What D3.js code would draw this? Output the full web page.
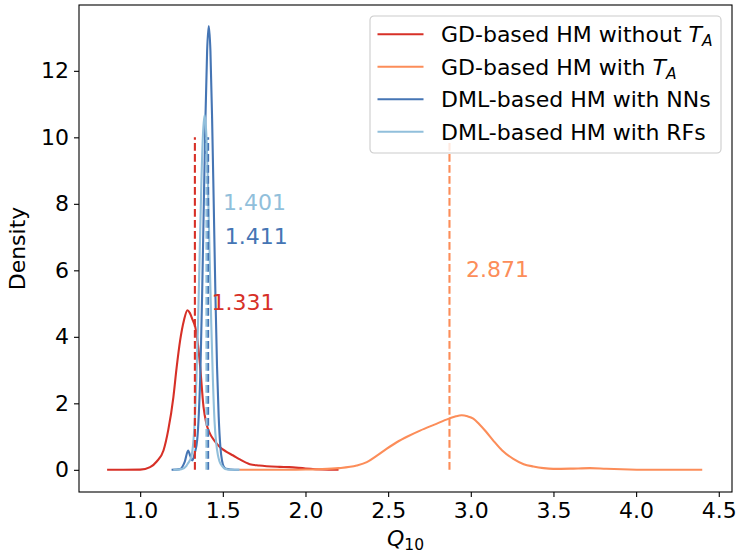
<!DOCTYPE html>
<meta charset="utf-8">
<style>
body { margin: 0; background: #fff; }
text { font-family: "DejaVu Sans", sans-serif; fill: #000; }
</style>
<body>
<script src="https://d3js.org/d3.v7.min.js"></script>
<script>

// kde curves, as [Q10, density]
var gdWithoutTa = [[0.8,0],[0.9,0],[1.0,0.005],[1.06,0.08],[1.1,0.25],[1.141,0.58],[1.17,1.2],[1.201,2.19],[1.22,3.05],[1.242,3.9],[1.265,4.5],[1.286,4.8],[1.30,4.72],[1.318,4.5],[1.333,4.3],[1.35,3.75],[1.363,3.1],[1.383,1.9],[1.40,1.4],[1.423,1.08],[1.45,0.87],[1.483,0.68],[1.52,0.55],[1.563,0.43],[1.6,0.32],[1.663,0.17],[1.72,0.13],[1.844,0.09],[1.9,0.08],[2.0,0.04],[2.1,0.01],[2.2,0]];
var gdWithTa = [[1.6,0],[1.8,0],[2.0,0.01],[2.1,0.02],[2.2,0.05],[2.31,0.13],[2.371,0.23],[2.43,0.42],[2.49,0.63],[2.552,0.83],[2.62,1.01],[2.693,1.18],[2.78,1.36],[2.868,1.54],[2.91,1.61],[2.945,1.64],[2.98,1.61],[3.015,1.54],[3.05,1.38],[3.09,1.16],[3.136,0.88],[3.19,0.58],[3.257,0.33],[3.32,0.17],[3.378,0.1],[3.44,0.05],[3.499,0.03],[3.6,0.035],[3.72,0.05],[3.82,0.03],[3.96,0.01],[4.1,0],[4.4,0]];
var dmlNN = [[1.19,0],[1.24,0.02],[1.27,0.25],[1.29,0.58],[1.303,0.42],[1.316,0.28],[1.33,0.5],[1.345,0.9],[1.355,1.7],[1.365,3.1],[1.375,5.3],[1.385,8.0],[1.395,10.6],[1.405,12.6],[1.415,13.35],[1.425,12.6],[1.435,10.6],[1.445,8.0],[1.455,5.3],[1.465,3.1],[1.475,1.6],[1.485,0.7],[1.495,0.28],[1.505,0.1],[1.52,0.03],[1.55,0.01],[1.6,0]];
var dmlRF = [[1.2,0],[1.25,0.02],[1.28,0.12],[1.29,0.2],[1.30,0.28],[1.31,0.4],[1.32,0.75],[1.33,1.45],[1.34,2.7],[1.35,4.4],[1.36,6.5],[1.37,8.6],[1.38,10.1],[1.39,10.67],[1.40,10.1],[1.41,8.6],[1.42,6.5],[1.43,4.4],[1.44,2.7],[1.45,1.45],[1.46,0.8],[1.47,0.45],[1.48,0.25],[1.495,0.12],[1.51,0.04],[1.53,0.01],[1.6,0]];

var labels = ["GD-based HM without ", "GD-based HM with ", "DML-based HM with NNs", "DML-based HM with RFs"];
var hasTa = [true, true, false, false];
var colors = ["#d73027", "#fc8d59", "#4575b4", "#91bfdb"];
var medians = [1.331, 2.871, 1.411, 1.401];
var medianTextY = [5, 6, 7, 8];
var xTicks = [1.0, 1.5, 2.0, 2.5, 3.0, 3.5, 4.0, 4.5];
var yTicks = [0, 2, 4, 6, 8, 10, 12];

var curves = [gdWithoutTa, gdWithTa, dmlNN, dmlRF];

var W = 736, H = 553;
var margin = {top: 5, right: 4, bottom: 61, left: 79},
    width = W - margin.left - margin.right,
    height = H - margin.top - margin.bottom;

var x = d3.scaleLinear().domain([0.63, 4.58]).range([0, width]);
var y = d3.scaleLinear().domain([-0.667, 13.98]).range([height, 0]);

var svg = d3.select("body").append("svg")
    .attr("width", W)
    .attr("height", H)
    .append("g")
    .attr("transform", "translate(" + margin.left + "," + margin.top + ")");

var line = d3.line()
    .curve(d3.curveMonotoneX)
    .x(function (d) { return x(d[0]); })
    .y(function (d) { return y(d[1]); });

svg.selectAll(".kde")
    .data(curves)
    .enter().append("path")
    .attr("class", "kde")
    .attr("d", line)
    .attr("fill", "none")
    .attr("stroke-width", 2.1)
    .attr("stroke", function (d, i) { return colors[i]; });

// dashed lines at the medians
svg.selectAll(".med")
    .data(medians)
    .enter().append("line")
    .attr("class", "med")
    .attr("x1", function (d) { return x(d); })
    .attr("x2", function (d) { return x(d); })
    .attr("y1", y(0))
    .attr("y2", y(10))
    .attr("stroke", function (d, i) { return colors[i]; })
    .attr("stroke-width", 2.1)
    .attr("stroke-dasharray", "7.7,3.3");

svg.selectAll(".medtext")
    .data(medians)
    .enter().append("text")
    .attr("class", "medtext")
    .attr("x", function (d) { return x(d + 0.1); })
    .attr("y", function (d, i) { return y(medianTextY[i]); })
    .attr("dy", "0.3em")
    .style("font-size", "22px")
    .style("fill", function (d, i) { return colors[i]; })
    .text(function (d) { return d3.format(".3f")(d); });

// axes
var xAxis = svg.append("g")
    .attr("transform", "translate(0," + height + ")")
    .call(d3.axisBottom(x).tickValues(xTicks).tickFormat(d3.format(".1f")).tickSizeOuter(0).tickSize(5).tickPadding(5));
var yAxis = svg.append("g")
    .call(d3.axisLeft(y).tickValues(yTicks).tickSizeOuter(0).tickSize(5).tickPadding(5));

[xAxis, yAxis].forEach(function (a) {
    a.select(".domain").remove();
    a.selectAll(".tick line").attr("stroke", "#000").attr("stroke-width", 1.1);
    a.selectAll(".tick text").style("font-size", "22px").attr("fill", "#000");
});

svg.append("rect")
    .attr("width", width)
    .attr("height", height)
    .attr("fill", "none")
    .attr("stroke", "#000")
    .attr("stroke-width", 1.1);

// axis labels
var xl = svg.append("text")
    .attr("x", width / 2)
    .attr("y", height + 54)
    .attr("text-anchor", "middle")
    .style("font-size", "22px");
xl.append("tspan").style("font-style", "italic").text("Q");
xl.append("tspan").attr("dy", "0.25em").style("font-size", "15.5px").text("10");

svg.append("text")
    .attr("transform", "translate(" + (-54) + "," + (height / 2) + ") rotate(-90)")
    .attr("text-anchor", "middle")
    .style("font-size", "22px")
    .text("Density");

// legend
var lg = svg.append("g").attr("transform", "translate(" + (370 - margin.left) + "," + (16 - margin.top) + ")");
lg.append("rect")
    .attr("width", 351)
    .attr("height", 137)
    .attr("rx", 4)
    .attr("fill", "#fff")
    .attr("fill-opacity", 0.8)
    .attr("stroke", "#cccccc")
    .attr("stroke-width", 1.1);

var rows = lg.selectAll(".row")
    .data(labels)
    .enter().append("g")
    .attr("class", "row")
    .attr("transform", function (d, i) { return "translate(0," + (18.3 + i * 32.5) + ")"; });

rows.append("line")
    .attr("x1", 7.5).attr("x2", 53.5)
    .attr("stroke", function (d, i) { return colors[i]; })
    .attr("stroke-width", 2.1);

var lt = rows.append("text")
    .attr("x", 71)
    .attr("dy", "0.36em")
    .style("font-size", "22px")
    .text(function (d) { return d; });

lt.filter(function (d, i) { return hasTa[i]; })
    .append("tspan").style("font-style", "italic").text("T");
lt.filter(function (d, i) { return hasTa[i]; })
    .append("tspan").attr("dy", "0.25em").style("font-style", "italic").style("font-size", "15.5px").text("A");

</script>
</body>
